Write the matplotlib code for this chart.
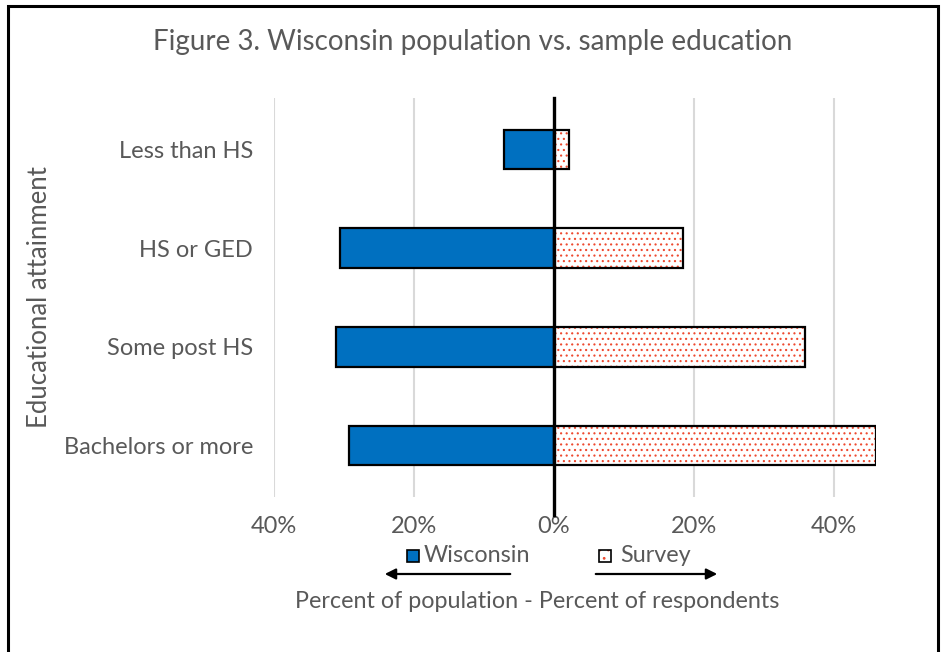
import matplotlib.pyplot as plt
from matplotlib.patches import Rectangle
from matplotlib.ticker import FuncFormatter

plt.rcParams['font.family'] = ['Lato', 'DejaVu Sans']
plt.rcParams['hatch.linewidth'] = 0.8

categories = ["Less than HS", "HS or GED", "Some post HS", "Bachelors or more"]
wisconsin = [0.071, 0.306, 0.311, 0.293]   # percent of population
survey = [0.022, 0.184, 0.359, 0.460]      # percent of respondents
xticks = [-0.4, -0.2, 0.0, 0.2, 0.4]

W, H = 945, 652
grey = "#595959"
blue = "#0070C0"
dots = "#ee4a30"

fig = plt.figure(figsize=(W / 100, H / 100), dpi=100)
ax = fig.add_axes([274 / W, 1 - 497 / H, 602 / W, 399 / H])

y = list(range(len(categories)))
ax.barh(y, [-v for v in wisconsin], height=0.4, color=blue, edgecolor="black", linewidth=1.6, zorder=3)
# dotted fill, then black outline on top
ax.barh(y, survey, height=0.4, facecolor="white", edgecolor=dots, hatch="...", linewidth=0, zorder=3)
ax.barh(y, survey, height=0.4, fill=False, edgecolor="black", linewidth=1.6, zorder=4)

ax.set_xlim(-0.40, 0.46)
ax.set_ylim(3.52, -0.52)
ax.set_xticks(xticks)
ax.xaxis.set_major_formatter(FuncFormatter(lambda v, p: "%d%%" % round(abs(v) * 100)))
ax.set_yticks(y)
ax.set_yticklabels(categories)
ax.tick_params(axis="both", length=0, labelsize=17, labelcolor=grey)
ax.tick_params(axis="y", pad=15)
ax.tick_params(axis="x", pad=14)
for s in ax.spines.values():
    s.set_visible(False)
for t in [-0.4, -0.2, 0.2, 0.4]:
    ax.axvline(t, color="#d9d9d9", linewidth=1.5, zorder=1)
ax.plot([0, 0], [-0.52, 3.70], color="black", linewidth=2.4, clip_on=False, zorder=5)

fig.text(473 / W, 1 - 42 / H, "Figure 3. Wisconsin population vs. sample education",
         ha="center", va="center", fontsize=20, color=grey)
fig.text(40 / W, 1 - 297 / H, "Educational attainment", rotation=90,
         ha="center", va="center", fontsize=18.5, color=grey)
fig.text(537 / W, 1 - 601 / H, "Percent of population - Percent of respondents",
         ha="center", va="center", fontsize=16.8, color=grey)

# legend
fig.add_artist(Rectangle((407 / W, 1 - 562 / H), 12 / W, 12 / H, transform=fig.transFigure,
                         facecolor=blue, edgecolor="black", linewidth=1.2))
fig.text(424 / W, 1 - 556 / H, "Wisconsin", ha="left", va="center", fontsize=16.8, color=grey)
fig.add_artist(Rectangle((599 / W, 1 - 562 / H), 12 / W, 12 / H, transform=fig.transFigure,
                         facecolor="white", edgecolor=dots, hatch="..", linewidth=0))
fig.add_artist(Rectangle((599 / W, 1 - 562 / H), 12 / W, 12 / H, transform=fig.transFigure,
                         fill=False, edgecolor="black", linewidth=1.2))
fig.text(620 / W, 1 - 556 / H, "Survey", ha="left", va="center", fontsize=16.8, color=grey)

fig.add_artist(plt.Annotation("", xy=(382 / W, 1 - 574 / H), xytext=(513 / W, 1 - 574 / H),
                              xycoords="figure fraction",
                              arrowprops=dict(arrowstyle="-|>", color="black", lw=1.6, mutation_scale=16)))
fig.add_artist(plt.Annotation("", xy=(720 / W, 1 - 574 / H), xytext=(593 / W, 1 - 574 / H),
                              xycoords="figure fraction",
                              arrowprops=dict(arrowstyle="-|>", color="black", lw=1.6, mutation_scale=16)))

# chart frame
fig.add_artist(Rectangle((8 / W, -0.05), 930 / W, 1.05 - 6 / H, transform=fig.transFigure,
                         fill=False, edgecolor="black", linewidth=2.2))

fig.savefig("out.png", dpi=100)
